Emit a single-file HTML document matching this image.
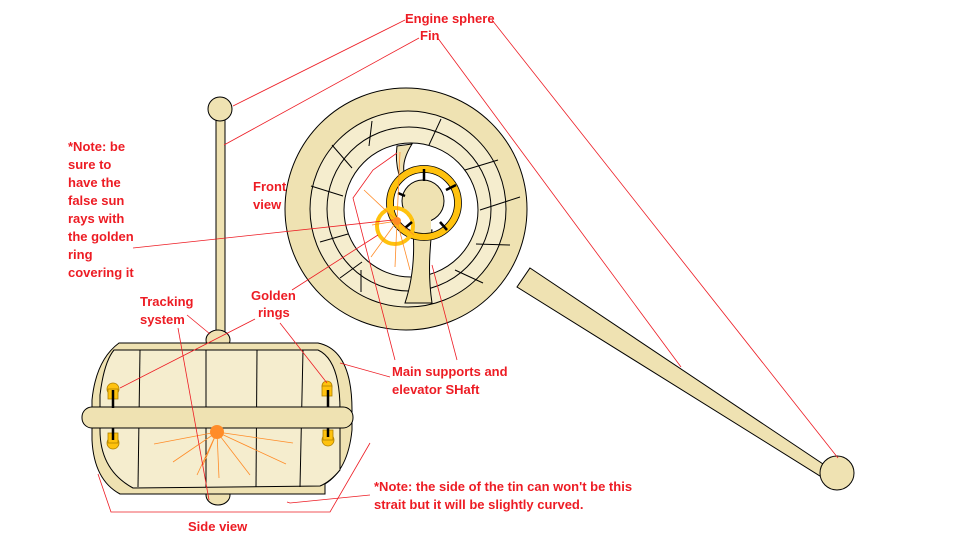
<!DOCTYPE html>
<html><head><style>
body{margin:0;background:#fff}
svg{display:block}
text{font-family:"Liberation Sans",sans-serif;font-weight:bold;font-size:13px;fill:#ED1C24}
</style></head><body>
<svg width="960" height="540" viewBox="0 0 960 540" xmlns="http://www.w3.org/2000/svg">
<polygon points="530,268 826,466 820,476 517,287" fill="#EFE2B2" stroke="#000" stroke-width="1"/>
<circle cx="837" cy="473" r="17" fill="#EFE2B2" stroke="#000"/>
<circle cx="406" cy="209" r="121" fill="#EFE2B2" stroke="#000"/>
<circle cx="408" cy="209" r="98" fill="#F5EDCE" stroke="#000"/>
<circle cx="409" cy="209" r="82" fill="none" stroke="#000"/>
<circle cx="411" cy="210" r="67" fill="#fff" stroke="#000"/>
<g stroke="#000" stroke-width="1">
<line x1="372" y1="121" x2="369" y2="146"/><line x1="441" y1="119" x2="429" y2="145"/>
<line x1="332" y1="145" x2="352" y2="168"/><line x1="311" y1="186" x2="343" y2="196"/>
<line x1="320" y1="242" x2="348" y2="234"/><line x1="340" y1="278" x2="362" y2="262"/>
<line x1="361" y1="292" x2="361" y2="270"/><line x1="465" y1="170" x2="498" y2="160"/>
<line x1="480" y1="210" x2="520" y2="197"/><line x1="476" y1="244" x2="510" y2="245"/>
<line x1="455" y1="270" x2="483" y2="283"/>
</g>
<path d="M397,146 L412,144 Q402,160 404,172 L399,175 Q395,160 397,146Z" fill="#EFE2B2" stroke="#000"/>
<path d="M413,230 Q416,270 405,303 L432,303 Q427,270 432,230 Z" fill="#EFE2B2" stroke="#000"/>
<circle cx="423" cy="201" r="21" fill="#EFE2B2" stroke="#000"/>
<rect x="414" y="215" width="17" height="20" fill="#EFE2B2"/>
<circle cx="424" cy="203" r="34" fill="none" stroke="#FFC20E" stroke-width="7"/>
<circle cx="424" cy="203" r="37.5" fill="none" stroke="#000" stroke-width="0.8"/>
<circle cx="424" cy="203" r="30.5" fill="none" stroke="#000" stroke-width="0.8"/>
<circle cx="395" cy="226" r="18" fill="none" stroke="#FFC20E" stroke-width="4"/>
<g stroke="#000" stroke-width="2.5">
<line x1="424" y1="169" x2="424" y2="181"/><line x1="446" y1="190" x2="456" y2="185"/>
<line x1="440" y1="222" x2="447" y2="230"/><line x1="405" y1="228" x2="412" y2="222"/>
<line x1="398" y1="193" x2="405" y2="196"/>
</g>
<circle cx="397" cy="221" r="4" fill="#FF8C28"/>
<g stroke="#FF8C28" stroke-width="0.8">
<line x1="397" y1="221" x2="364" y2="190"/><line x1="397" y1="221" x2="372" y2="225"/>
<line x1="397" y1="221" x2="371" y2="257"/><line x1="397" y1="221" x2="395" y2="267"/>
<line x1="397" y1="221" x2="410" y2="270"/><line x1="397" y1="221" x2="414" y2="235"/>
<line x1="397" y1="221" x2="400" y2="152"/>
</g>
<rect x="216" y="118" width="9" height="222" fill="#EFE2B2" stroke="#000"/>
<circle cx="220" cy="109" r="12" fill="#EFE2B2" stroke="#000"/>
<ellipse cx="218" cy="340" rx="12" ry="10" fill="#EFE2B2" stroke="#000"/>
<ellipse cx="218" cy="495" rx="12" ry="10" fill="#EFE2B2" stroke="#000"/>
<path d="M119,343 L318,343 Q352,350 352,410 L352,430 Q348,470 325,484 L325,494 L120,494 Q94,480 92,440 L92,400 Q96,360 119,343Z" fill="#EFE2B2" stroke="#000"/>
<path d="M114,350 L318,350 Q340,360 340,410 L340,470 Q330,482 320,486 L133,488 Q100,470 100,430 L100,395 Q104,362 114,350Z" fill="#F5EDCE" stroke="#000"/>
<g stroke="#000">
<line x1="140" y1="350" x2="138" y2="487"/><line x1="206" y1="350" x2="206" y2="487"/>
<line x1="257" y1="350" x2="256" y2="487"/><line x1="303" y1="350" x2="300" y2="487"/>
</g>
<rect x="82" y="407" width="271" height="21" rx="10" fill="#EFE2B2" stroke="#000"/>
<g fill="#FFC20E" stroke="#B08000" stroke-width="0.8">
<circle cx="113" cy="389" r="6"/><rect x="108" y="389" width="10" height="10"/>
<circle cx="113" cy="443" r="6"/><rect x="108" y="433" width="10" height="10"/>
<circle cx="327" cy="386" r="5"/><rect x="322" y="386" width="10" height="10"/>
<circle cx="328" cy="440" r="6"/><rect x="323" y="430" width="10" height="10"/>
</g>
<g stroke="#000" stroke-width="2.5">
<line x1="113" y1="390" x2="113" y2="408"/><line x1="113" y1="428" x2="113" y2="440"/>
<line x1="328" y1="390" x2="328" y2="407"/><line x1="328" y1="428" x2="328" y2="437"/>
</g>
<circle cx="217" cy="432" r="7" fill="#FF8C28"/>
<g stroke="#FF8C28" stroke-width="0.8">
<line x1="217" y1="432" x2="154" y2="444"/><line x1="217" y1="432" x2="173" y2="462"/>
<line x1="217" y1="432" x2="197" y2="475"/><line x1="217" y1="432" x2="219" y2="478"/>
<line x1="217" y1="432" x2="250" y2="475"/><line x1="217" y1="432" x2="286" y2="464"/>
<line x1="217" y1="432" x2="293" y2="443"/><line x1="217" y1="432" x2="203" y2="465"/>
</g>
<g stroke="#ED1C24" stroke-width="0.8" fill="none">
<line x1="405" y1="20" x2="233" y2="106"/>
<line x1="419" y1="38" x2="224" y2="145"/>
<line x1="437" y1="37" x2="681" y2="367"/>
<line x1="492" y1="20" x2="838" y2="458"/>
<line x1="133" y1="248" x2="393" y2="220"/>
<line x1="292" y1="290" x2="378" y2="235"/>
<polyline points="397,153 373,170 353,198 395,360"/>
<line x1="432" y1="265" x2="457" y2="360"/>
<line x1="255" y1="319" x2="120" y2="388"/>
<line x1="280" y1="323" x2="327" y2="383"/>
<line x1="187" y1="315" x2="210" y2="334"/>
<line x1="178" y1="328" x2="209" y2="500"/>
<line x1="340" y1="363" x2="390" y2="377"/>
<polyline points="98,474 111,512 330,512 370,443"/>
<polyline points="287,502 290,503 370,495"/>
</g>
<text x="405" y="23">Engine sphere</text>
<text x="420" y="40">Fin</text>
<text x="68" y="151">*Note: be</text>
<text x="68" y="169">sure to</text>
<text x="68" y="187">have the</text>
<text x="68" y="205">false sun</text>
<text x="68" y="223">rays with</text>
<text x="68" y="241">the golden</text>
<text x="68" y="259">ring</text>
<text x="68" y="277">covering it</text>
<text x="253" y="191">Front</text>
<text x="253" y="209">view</text>
<text x="251" y="300">Golden</text>
<text x="258" y="317">rings</text>
<text x="140" y="306">Tracking</text>
<text x="140" y="324">system</text>
<text x="392" y="376">Main supports and</text>
<text x="392" y="394">elevator SHaft</text>
<text x="374" y="491">*Note: the side of the tin can won't be this</text>
<text x="374" y="509">strait but it will be slightly curved.</text>
<text x="188" y="531">Side view</text>
</svg>
</body></html>
